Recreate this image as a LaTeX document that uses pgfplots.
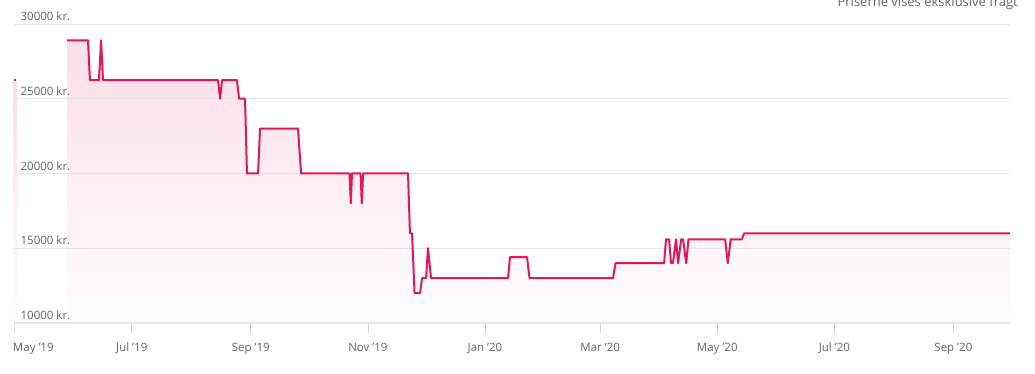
\documentclass[border=0pt]{standalone}
\usepackage{pgfplots}
\pgfplotsset{compat=1.18}
\usepackage{fontspec}
\setmainfont{Open Sans}
\definecolor{linec}{RGB}{226,22,90}
\definecolor{fillc}{RGB}{251,222,232}
\definecolor{gridc}{RGB}{230,230,230}
\definecolor{tickc}{RGB}{214,214,214}
\definecolor{labc}{RGB}{102,102,102}
\begin{document}
\begin{tikzpicture}
\begin{axis}[
  set layers,
  at={(14pt,51pt)}, anchor=south west,
  scale only axis, width=996pt, height=299pt,
  xmin=-0.36, xmax=518.5, ymin=10000, ymax=30000,
  axis x line*=bottom, axis y line*=left,
  x axis line style={draw=gridc, line width=1pt},
  y axis line style={draw=none},
  scaled y ticks=false,
  ytick={10000,15000,20000,25000,30000},
  yticklabels={10000 kr.,15000 kr.,20000 kr.,25000 kr.,30000 kr.},
  ymajorgrids, grid style={draw=gridc, line width=0.8pt},
  ytick style={draw=none},
  xtick={0,61,123,184,245,305,366,427,489},
  xticklabels={\makebox[0pt][l]{\hspace*{-1.7pt}May '19},Jul '19,Sep '19,Nov '19,Jan '20,Mar '20,May '20,Jul '20,Sep '20},
  tick align=outside, major tick length=10pt,
  xtick style={draw=tickc, line width=0.8pt},
  yticklabel style={anchor=base west, inner sep=0pt, xshift=16.4pt, yshift=3.3pt, font=\fontsize{11.5}{13}\selectfont, text=labc},
  xticklabel style={anchor=base, inner sep=0pt, yshift=-19pt, font=\fontsize{11.5}{13}\selectfont, text=labc},
]
% first isolated value
\addplot[on layer=axis background, draw=none, top color=fillc, middle color=fillc!85!white, bottom color=white] coordinates {(-0.7,10000) (-0.7,26250) (0.9,26250) (0.9,10000)};
\addplot[linec, line width=2pt] coordinates {(-0.7,26250) (0.9,26250)};
% fill under main series
\addplot[on layer=axis background, draw=none, top color=fillc, middle color=fillc!85!white, bottom color=white!97!fillc] coordinates {
(27.2,10000)
(27.2,28900) (38.2,28900) (39.2,26250) (43.9,26250) (45.0,28900) (46.0,26250)
(105.9,26250) (107.0,25000) (108.0,26250) (115.8,26250) (116.9,25000) (120.0,25000)
(121.0,20000) (126.8,20000) (127.8,23000) (147.6,23000) (149.2,20000) (174.4,20000)
(175.1,18000) (175.7,20000) (180.2,20000) (180.8,18000) (181.5,20000) (204.9,20000)
(205.9,16000) (207.0,16000) (208.3,12000) (211.2,12000) (212.2,13000) (214.3,13000)
(215.3,15000) (216.9,13000) (257.0,13000) (258.0,14400) (266.9,14400) (268.2,13000)
(311.7,13000) (313.0,14000) (338.3,14000) (339.3,15600) (340.9,15600) (341.9,14000)
(342.9,14000) (344.5,15600) (345.6,14000) (347.2,15600) (348.2,15600) (349.8,14000)
(351.0,15600) (370.1,15600) (371.5,14000) (373.0,15600) (378.8,15600) (380.0,16000)
(518.5,16000)
(518.5,10000)};
% main line
\addplot[linec, line width=2pt, line join=round] coordinates {
(27.2,28900) (38.2,28900) (39.2,26250) (43.9,26250) (45.0,28900) (46.0,26250)
(105.9,26250) (107.0,25000) (108.0,26250) (115.8,26250) (116.9,25000) (120.0,25000)
(121.0,20000) (126.8,20000) (127.8,23000) (147.6,23000) (149.2,20000) (174.4,20000)
(175.1,18000) (175.7,20000) (180.2,20000) (180.8,18000) (181.5,20000) (204.9,20000)
(205.9,16000) (207.0,16000) (208.3,12000) (211.2,12000) (212.2,13000) (214.3,13000)
(215.3,15000) (216.9,13000) (257.0,13000) (258.0,14400) (266.9,14400) (268.2,13000)
(311.7,13000) (313.0,14000) (338.3,14000) (339.3,15600) (340.9,15600) (341.9,14000)
(342.9,14000) (344.5,15600) (345.6,14000) (347.2,15600) (348.2,15600) (349.8,14000)
(351.0,15600) (370.1,15600) (371.5,14000) (373.0,15600) (378.8,15600) (380.0,16000)
(518.5,16000)};
\end{axis}
\node[anchor=base east, inner sep=0pt, text=labc, font=\fontsize{13}{15}\selectfont] at (1018pt,367.5pt) {Priserne vises eksklusive fragt};
\pgfresetboundingbox
\path[use as bounding box] (0,0) rectangle (1035pt,374pt);
\end{tikzpicture}
\end{document}
